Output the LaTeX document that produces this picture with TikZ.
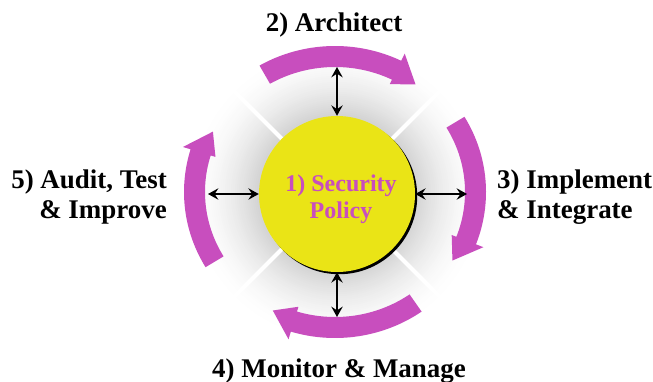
\documentclass[tikz,border=0pt]{standalone}
\usepackage{fontspec}
\setmainfont{Liberation Serif}
\usetikzlibrary{arrows.meta,positioning}
\definecolor{cycmag}{RGB}{200,78,190}
\definecolor{polyellow}{RGB}{234,228,22}

\begin{document}
\begin{tikzpicture}[x=0.3mm, y=0.3mm,
    phase/.style={font=\fontsize{23}{25.6}\selectfont\bfseries, inner sep=0pt},
    cyclearrow/.style={fill=cycmag},
    link/.style={{Stealth[length=3.1mm,width=3.4mm,inset=1.1mm]}-{Stealth[length=3.1mm,width=3.4mm,inset=1.1mm]}, line width=0.45mm}]
  \useasboundingbox (0,0) rectangle (653,381);
  \coordinate (c) at (337,187);
  % grey halo and the four white cuts
  \foreach \i in {0,...,35}{
    \pgfmathsetmacro\rr{150-2*\i}
    \pgfmathsetmacro\kk{17*(\i/35)^1.8}
    \fill[black!\kk] (c) circle[radius=\rr];
  }
  \foreach \a in {45,135,225,315}
    \draw[white, line width=1.2mm] (c) ++(\a:78) -- ++(\a:75);
  \fill[black] ([shift={(2.2,-2.2)}]c) circle[radius=78];
  \node[circle, fill=polyellow, minimum size=46.8mm, inner sep=0pt] (sp) at (c) {};
  \node[font=\fontsize{20.5}{23}\selectfont\bfseries, text=cycmag, align=center, inner sep=0pt] (sptext) at (341,181.6) {1) Security\\Policy};
  % clockwise cycle
  \begin{scope}[shift={(335,189)}]
    \foreach \t/\b/\p in {120/64/54, 31/-21/-31, -55/-107/-117, 211/163/153}
      \fill[cyclearrow] (\t:151 and 146) arc[start angle=\t, end angle=\b, x radius=151, y radius=146]
        -- (\b:159 and 154) -- (\p:137 and 133) -- (\b:125 and 120) -- (\b:130 and 125)
        arc[start angle=\b, end angle=\t, x radius=130, y radius=125] -- cycle;
  \end{scope}
  \coordinate (topend) at (337,314);
  \coordinate (rightend) at (467,187);
  \coordinate (bottomend) at (337,64);
  \coordinate (leftend) at (208,187);
  \draw[link] (sp.north) -- (topend);
  \draw[link] (sp.east) -- (rightend);
  \draw[link] (sp.south) -- (bottomend);
  \draw[link] (sp.west) -- (leftend);
  \node[phase, anchor=base] (architect) at (334,349) {2) Architect};
  \node[phase, anchor=west, align=left] (implement) at (497,184) {3) Implement\\\& Integrate};
  \node[phase, anchor=base] (monitor) at (339,4) {4) Monitor \& Manage};
  \node[phase, anchor=east, align=right] (audit) at (167,184) {5) Audit, Test\\\& Improve};
\end{tikzpicture}
\end{document}
